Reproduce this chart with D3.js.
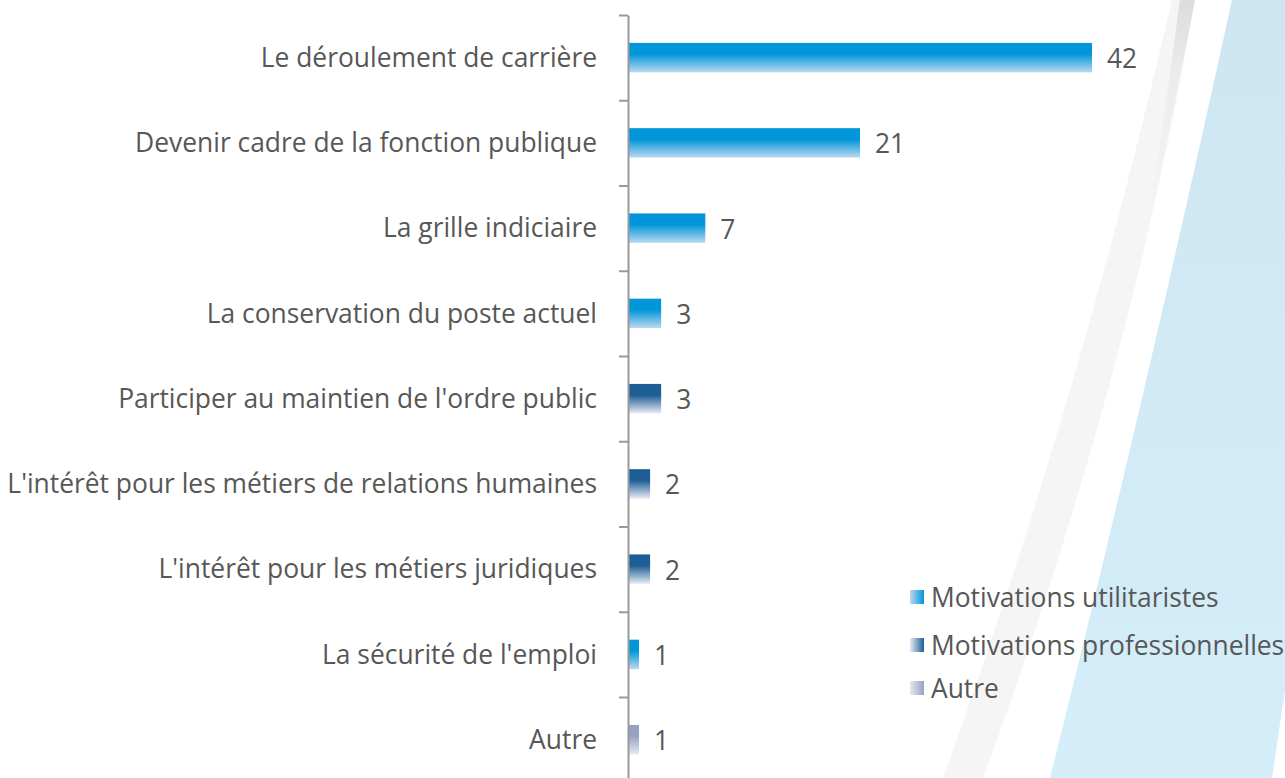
<!DOCTYPE html>
<html>
<head>
<meta charset="utf-8">
<script src="https://cdn.jsdelivr.net/npm/d3@7"></script>
<style>
  body { margin: 0; background: #fff; }
  svg { display: block; }
  text { font-family: "Open Sans", "Noto Sans", sans-serif; fill: #575757; }
</style>
</head>
<body>
<svg id="svg1" width="1285" height="778"></svg>
<script>
var categories = [
  "Le déroulement de carrière",
  "Devenir cadre de la fonction publique",
  "La grille indiciaire",
  "La conservation du poste actuel",
  "Participer au maintien de l'ordre public",
  "L'intérêt pour les métiers de relations humaines",
  "L'intérêt pour les métiers juridiques",
  "La sécurité de l'emploi",
  "Autre"
];
var values = [42, 21, 7, 3, 3, 2, 2, 1, 1];
var groups = ["util", "util", "util", "util", "prof", "prof", "prof", "util", "autre"];

var legendKeys = ["util", "prof", "autre"];
var legendLabels = ["Motivations utilitaristes", "Motivations professionnelles", "Autre"];

var width = 1285;
var height = 778;
var fontSize = "26.4px";

var svg = d3.select("#svg1");
var defs = svg.append("defs");

// gradients for each group: [top/dark, bottom/light]
var colors = {
  util: ["#0096d9", "#bcd9f1"],
  prof: ["#1d5e95", "#e9ebf6"],
  autre: ["#98a2c0", "#e6e9f3"]
};

legendKeys.forEach(function(k) {
  var g = defs.append("linearGradient").attr("id", "bar-" + k)
    .attr("x1", 0).attr("y1", 0).attr("x2", 0).attr("y2", 1);
  g.append("stop").attr("offset", "0%").attr("stop-color", colors[k][0]);
  g.append("stop").attr("offset", "38%").attr("stop-color", colors[k][0]);
  g.append("stop").attr("offset", "100%").attr("stop-color", colors[k][1]);

  var l = defs.append("linearGradient").attr("id", "leg-" + k)
    .attr("x1", 0).attr("y1", 0).attr("x2", 1).attr("y2", 0);
  l.append("stop").attr("offset", "0%").attr("stop-color", colors[k][1]);
  l.append("stop").attr("offset", "100%").attr("stop-color", colors[k][0]);
});

// background decoration
var bgBlue = defs.append("linearGradient").attr("id", "bg-blue")
  .attr("x1", 0).attr("y1", 0).attr("x2", 0).attr("y2", 1);
bgBlue.append("stop").attr("offset", "0%").attr("stop-color", "#cee6f1");
bgBlue.append("stop").attr("offset", "100%").attr("stop-color", "#d4eefa");

var bgGray = defs.append("linearGradient").attr("id", "bg-gray")
  .attr("x1", 0).attr("y1", 0).attr("x2", 0).attr("y2", 1);
bgGray.append("stop").attr("offset", "0%").attr("stop-color", "#dcdcdc");
bgGray.append("stop").attr("offset", "35%").attr("stop-color", "#ececec");
bgGray.append("stop").attr("offset", "100%").attr("stop-color", "#f5f5f5");

var bg = svg.append("g").attr("class", "background");
bg.append("path")
  .attr("d", "M1232,0 L1285,0 L1285,690 L1272,778 L1050,778 Q1140,420 1232,0 Z")
  .attr("fill", "url(#bg-blue)");
bg.append("path")
  .attr("d", "M1172,0 L1195,0 Q1130,380 983,778 L943,778 Q1080,400 1172,0 Z")
  .attr("fill", "#f5f5f5");
bg.append("path")
  .attr("d", "M1180,0 L1195,0 Q1170,130 1150,215 Q1165,110 1180,0 Z")
  .attr("fill", "url(#bg-gray)");

var marginTop = 15;
var axisX = 628;

var scaleY = d3.scaleBand()
  .domain(categories)
  .range([marginTop, marginTop + 85.25 * categories.length])
  .paddingInner(0.655)
  .paddingOuter(0.3275);

var scaleX = d3.scaleLinear()
  .domain([0, 42])
  .range([axisX, 1092]);

var data = categories.map(function(c, i) {
  return { cat: c, value: values[i], group: groups[i] };
});

svg.selectAll(".bar")
  .data(data)
  .enter()
  .append("rect")
    .attr("class", "bar")
    .attr("x", scaleX(0))
    .attr("y", function(d) { return scaleY(d.cat); })
    .attr("width", function(d) { return scaleX(d.value) - scaleX(0); })
    .attr("height", scaleY.bandwidth())
    .attr("fill", function(d) { return "url(#bar-" + d.group + ")"; });

// axis with ticks between categories
var tickScale = d3.scaleLinear()
  .domain([0, categories.length])
  .range(scaleY.range());

svg.append("g")
  .attr("class", "axis")
  .attr("transform", "translate(" + axisX + ",0)")
  .call(d3.axisLeft(tickScale)
    .tickValues(d3.range(0, categories.length + 1))
    .tickSize(9)
    .tickSizeOuter(0)
    .tickFormat(""));

d3.selectAll(".axis path, .axis line").attr("stroke", "#999").attr("stroke-width", 2);

svg.selectAll(".cat-label")
  .data(data)
  .enter()
  .append("text")
    .attr("class", "cat-label")
    .attr("x", 597)
    .attr("y", function(d) { return scaleY(d.cat) + scaleY.bandwidth() / 2; })
    .attr("dy", "0.35em")
    .attr("text-anchor", "end")
    .style("font-size", fontSize)
    .text(function(d) { return d.cat; });

svg.selectAll(".val-label")
  .data(data)
  .enter()
  .append("text")
    .attr("class", "val-label")
    .attr("x", function(d) { return scaleX(d.value) + 15; })
    .attr("y", function(d) { return scaleY(d.cat) + scaleY.bandwidth() / 2; })
    .attr("dy", "0.4em")
    .style("font-size", fontSize)
    .text(function(d) { return d.value; });

// legend
var legend = svg.selectAll(".legend")
  .data(legendKeys)
  .enter()
  .append("g")
    .attr("class", "legend")
    .attr("transform", function(d, i) { return "translate(910," + [597, 645, 688][i] + ")"; });

legend.append("rect")
  .attr("x", 0)
  .attr("y", -7)
  .attr("width", 14)
  .attr("height", 14)
  .attr("fill", function(d) { return "url(#leg-" + d + ")"; });

legend.append("text")
  .attr("x", 21)
  .attr("dy", "0.36em")
  .style("font-size", fontSize)
  .text(function(d, i) { return legendLabels[i]; });
</script>
</body>
</html>
